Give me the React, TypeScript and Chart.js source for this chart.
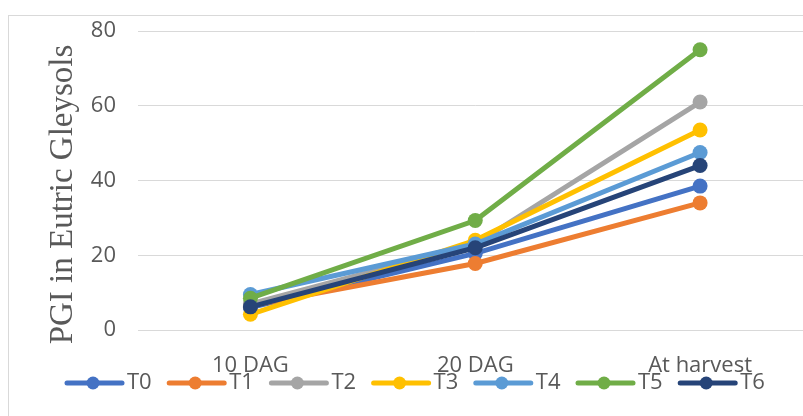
import React, { useEffect, useRef } from "react";
import { Chart, registerables } from "chart.js";

Chart.register(...registerables);

const categories = ["10 DAG", "20 DAG", "At harvest"];
const seriesNames = ["T0", "T1", "T2", "T3", "T4", "T5", "T6"];
const seriesColors = ["#4472C4", "#ED7D31", "#A5A5A5", "#FFC000", "#5B9BD5", "#70AD47", "#264478"];
const T0 = [6, 20.5, 38.5];
const T1 = [6.5, 17.8, 34];
const T2 = [7, 23, 61];
const T3 = [4.2, 24, 53.5];
const T4 = [9.5, 23, 47.5];
const T5 = [8.5, 29.3, 75];
const T6 = [6.2, 22, 44];
const seriesValues = [T0, T1, T2, T3, T4, T5, T6];
const yTicks = [0, 20, 40, 60, 80];
const yTitle = "PGI in Eutric Gleysols";

const TEXT = "#595959";
const FONT = "'Open Sans', 'Noto Sans', sans-serif";

const overlayPlugin = {
  id: "overlay",
  afterDraw(chart: any) {
    const ctx = chart.ctx;
    ctx.save();
    // y-axis title
    ctx.translate(63, 178.5);
    ctx.rotate(-Math.PI / 2);
    ctx.fillStyle = TEXT;
    ctx.font = "33px 'Liberation Serif', 'Times New Roman', serif";
    ctx.textAlign = "center";
    ctx.textBaseline = "alphabetic";
    ctx.fillText(yTitle, 0, 0);
    ctx.restore();

    // legend
    ctx.save();
    const pitch = 102.2;
    const lineY = 367;
    seriesNames.forEach((name, i) => {
      const x0 = 56 + i * pitch;
      const c = seriesColors[i];
      ctx.strokeStyle = c;
      ctx.lineWidth = 5;
      ctx.lineCap = "round";
      ctx.beginPath();
      ctx.moveTo(x0 + 2, lineY);
      ctx.lineTo(x0 + 57, lineY);
      ctx.stroke();
      ctx.fillStyle = c;
      ctx.beginPath();
      ctx.arc(x0 + 28, lineY, 6.5, 0, Math.PI * 2);
      ctx.fill();
      ctx.fillStyle = TEXT;
      ctx.font = "22px " + FONT;
      ctx.textAlign = "left";
      ctx.textBaseline = "alphabetic";
      ctx.fillText(name, x0 + 62, 373);
    });
    ctx.restore();
  },
};

export default function App() {
  const ref = useRef<HTMLCanvasElement | null>(null);
  useEffect(() => {
    if (!ref.current) return;
    const chart = new Chart(ref.current, {
      type: "line",
      data: {
        labels: categories,
        datasets: seriesValues.map((vals, i) => ({
          label: seriesNames[i],
          data: vals,
          borderColor: seriesColors[i],
          backgroundColor: seriesColors[i],
          pointBackgroundColor: seriesColors[i],
          pointBorderWidth: 0,
          pointRadius: 7.5,
          borderWidth: 5,
          tension: 0,
          order: seriesNames.length - 1 - i,
        })),
      },
      options: {
        animation: false,
        responsive: false,
        devicePixelRatio: 1,
        layout: { padding: { left: 0, right: 26.5, top: 15, bottom: 36 } },
        plugins: {
          legend: { display: false },
          tooltip: { enabled: false },
          title: { display: false },
        },
        scales: {
          x: {
            type: "category",
            offset: true,
            grid: { display: false, drawTicks: false },
            border: { display: false },
            ticks: {
              color: TEXT,
              font: { family: FONT, size: 22 },
              padding: 23,
              maxRotation: 0,
              autoSkip: false,
            },
            afterFit(scale: any) {
              scale.height = 50;
            },
          },
          y: {
            min: 0,
            max: 80,
            afterBuildTicks(scale: any) {
              scale.ticks = yTicks.map((v) => ({ value: v }));
            },
            grid: { color: "#d9d9d9", lineWidth: 1, drawTicks: false },
            border: { display: false },
            ticks: {
              color: TEXT,
              font: { family: FONT, size: 22 },
              padding: 22,
            },
            afterFit(scale: any) {
              scale.width = 129;
              scale.paddingTop = 0;
              scale.paddingBottom = 0;
            },
          },
        },
      },
      plugins: [overlayPlugin],
    });
    return () => chart.destroy();
  }, []);

  return (
    <div
      style={{
        position: "fixed",
        left: 8,
        top: 15,
        width: 820,
        height: 420,
        borderLeft: "1px solid #d9d9d9",
        borderTop: "1px solid #d9d9d9",
        overflow: "hidden",
        background: "#ffffff",
      }}
    >
      <canvas ref={ref} width={830} height={400} style={{ display: "block", width: 830, height: 400 }} />
    </div>
  );
}
